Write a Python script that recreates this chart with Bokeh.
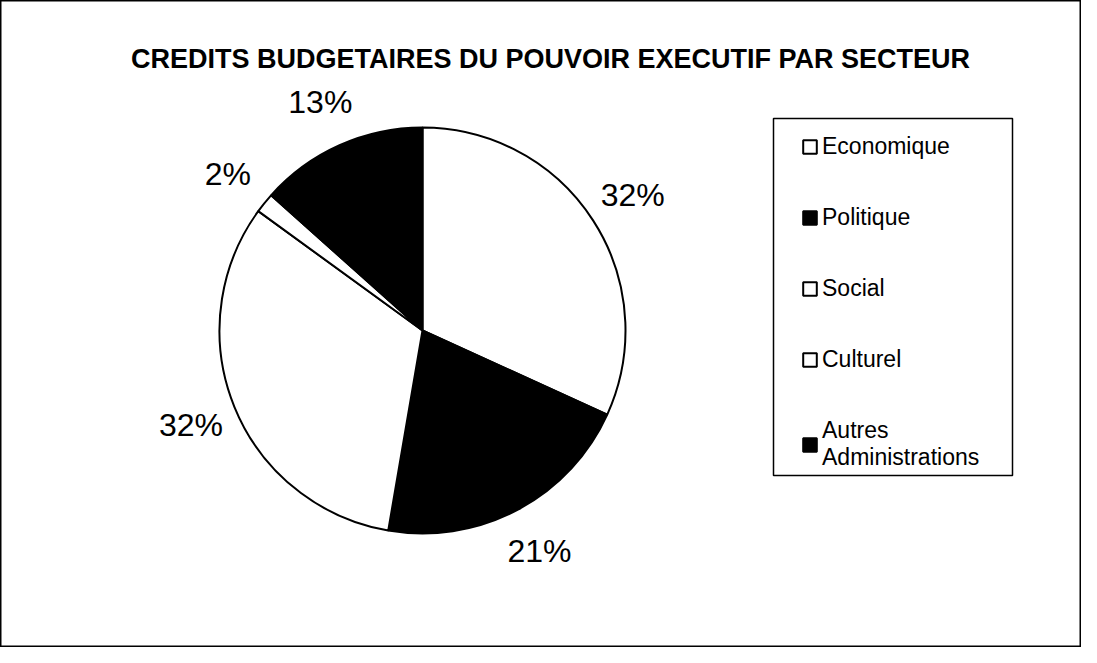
import numpy as np
from bokeh.plotting import figure
from bokeh.models import ColumnDataSource, Legend, LegendItem, Label, BoxAnnotation
from bokeh.embed import file_html
from bokeh.resources import INLINE
from bokeh.core.properties import value

# ---- data ----
sectors = ["Economique", "Politique", "Social", "Culturel", "Autres\nAdministrations"]
shares = [31.8, 20.9, 32.3, 1.6, 13.4]
fills = ["white", "black", "white", "white", "black"]
pct_labels = ["32%", "21%", "32%", "2%", "13%"]
title_text = "CREDITS BUDGETAIRES DU POUVOIR EXECUTIF PAR SECTEUR"

W, H = 1081, 647
FONT = "Liberation Sans"

p = figure(width=W, height=H, x_range=(0, W), y_range=(0, H),
           output_backend="svg", toolbar_location=None, min_border=0)
p.axis.visible = False
p.grid.visible = False
p.outline_line_color = "black"
p.outline_line_width = 2
p.background_fill_color = "white"

cx, cy, r = 422, 317, 203
frac = np.array(shares) / sum(shares)
cum = np.cumsum(frac)
start = np.concatenate([[0.0], cum[:-1]])
end_ang = np.pi / 2 - start * 2 * np.pi
start_ang = np.pi / 2 - cum * 2 * np.pi
mid = (start_ang + end_ang) / 2
lr = 250

src = ColumnDataSource(dict(
    start=start_ang, end=end_ang, fill=fills, sector=sectors,
    lx=cx + lr * np.cos(mid), ly=cy + lr * np.sin(mid), lab=pct_labels,
))

wr = p.wedge(x=cx, y=cy, radius=r, start_angle="start", end_angle="end",
             fill_color="fill", line_color="black", line_width=2, source=src)

p.text(x="lx", y="ly", text="lab", source=src, text_align="center",
       text_baseline="middle", text_font=value(FONT), text_font_size="32px",
       text_color="black")

items = [LegendItem(label=s, renderers=[wr], index=i) for i, s in enumerate(sectors)]
legend = Legend(items=items, location=(801, 176), padding=0, spacing=44,
                border_line_alpha=0, background_fill_alpha=0,
                label_text_font=FONT, label_text_font_size="23px",
                label_text_color="black",
                label_height=27, glyph_width=17, glyph_height=17,
                label_standoff=4, margin=0)
p.add_layout(legend)

p.add_layout(BoxAnnotation(left=773, right=1012, top=529, bottom=172,
                           fill_alpha=0, line_color="black", line_alpha=1,
                           line_width=1.5))

p.add_layout(Label(x=550, y=589, text=title_text, text_align="center",
                   text_baseline="middle", text_font=FONT, text_font_style="bold",
                   text_font_size="27px", text_color="black"))

open("out.html", "w").write(file_html(p, INLINE))
